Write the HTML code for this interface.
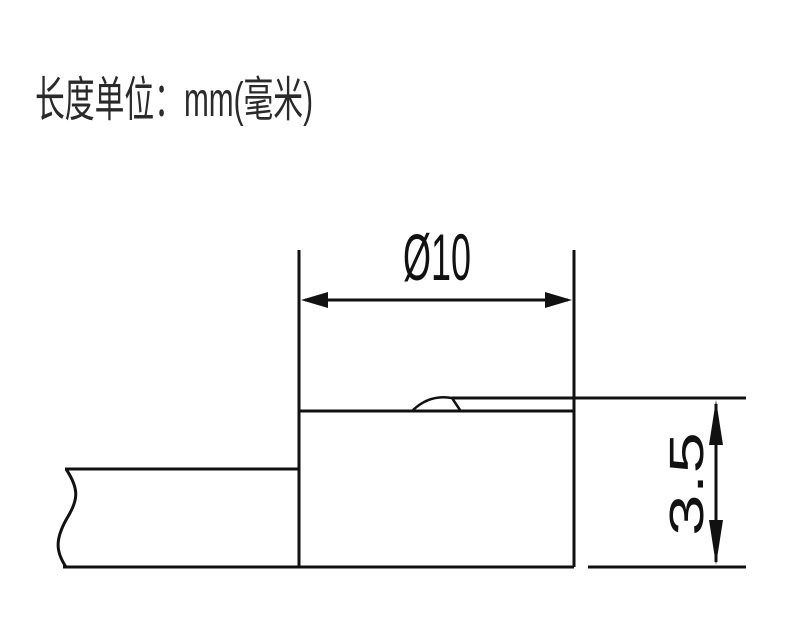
<!DOCTYPE html>
<html><head><meta charset="utf-8"><style>
html,body{margin:0;padding:0;background:#fff;width:800px;height:640px;overflow:hidden}
</style></head><body>
<svg width="800" height="640" viewBox="0 0 800 640" xmlns="http://www.w3.org/2000/svg">
<text x="35" y="116" font-family="Liberation Sans, Noto Sans CJK SC, sans-serif" font-size="48" fill="#2a2a2a" textLength="278" lengthAdjust="spacingAndGlyphs">长度单位：mm(毫米)</text>
<g stroke="#111" stroke-width="3" fill="none">
<line x1="299" y1="250" x2="299" y2="567"/>
<line x1="574" y1="250" x2="574" y2="567"/>
<line x1="305" y1="300" x2="568" y2="300"/>
<line x1="65" y1="469" x2="299" y2="469"/>
<line x1="63" y1="567" x2="574" y2="567"/>
<path d="M66 469 C80 490 78 500 66 520 C55 540 56 552 66 567"/>
<line x1="299" y1="411" x2="574" y2="411"/>
<line x1="452" y1="398" x2="746" y2="398"/>
<line x1="588" y1="567" x2="746" y2="567"/>
<line x1="716" y1="404" x2="716" y2="562"/>
</g>
<path d="M413 410 Q430 394 452 398 L460 410" stroke="#111" stroke-width="2.5" fill="none"/>
<g fill="#111">
<polygon points="301,300 328,292 328,308"/>
<polygon points="572,300 545,292 545,308"/>
<polygon points="716,400 709,445 723,445"/>
<polygon points="716,565 709,520 723,520"/>
</g>
<text x="403" y="280" font-family="Liberation Sans, DejaVu Sans, sans-serif" font-size="66" fill="#111" textLength="68" lengthAdjust="spacingAndGlyphs">Ø10</text>
<text transform="translate(703,536) rotate(-90)" font-family="Liberation Sans, sans-serif" font-size="48" fill="#111" textLength="104" lengthAdjust="spacingAndGlyphs">3.5</text>
</svg>
</body></html>
